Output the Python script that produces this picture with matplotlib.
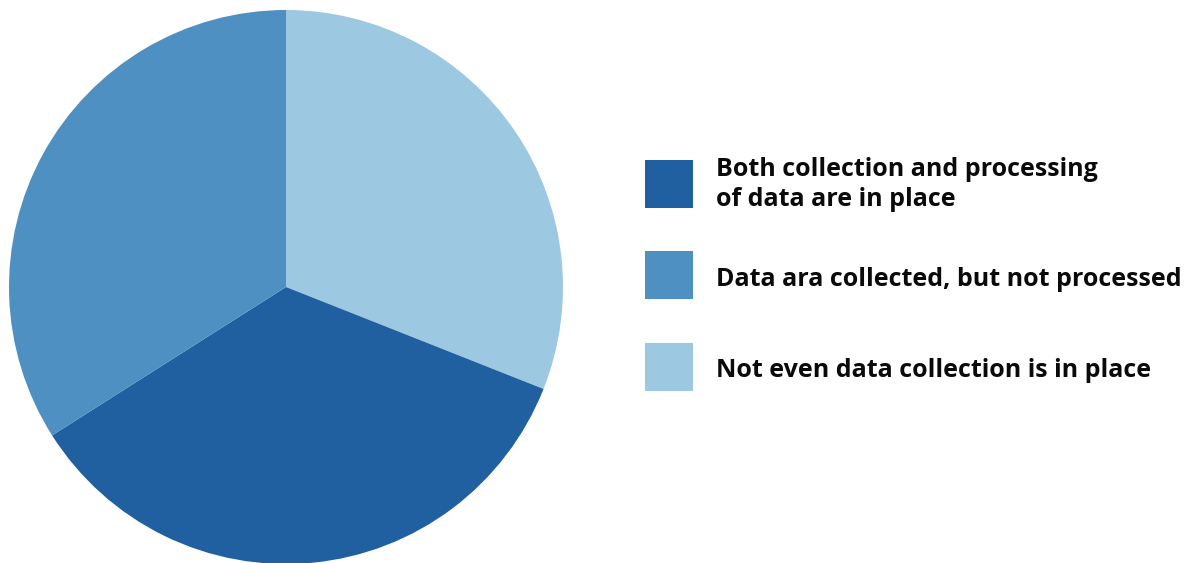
import matplotlib.pyplot as plt
from matplotlib.patches import Rectangle

plt.rcParams['font.family'] = ['Open Sans', 'DejaVu Sans']

# survey shares, in drawing order (clockwise from 12 o'clock)
labels = ['Not even data collection is in place',
          'Both collection and processing\nof data are in place',
          'Data ara collected, but not processed']
shares = [31, 35, 34]
colors = ['#9dc8e2', '#2060a0', '#4f90c3']

# legend order as listed on the right
legend_order = [1, 2, 0]

W, H = 1190, 563
fig = plt.figure(figsize=(W / 100, H / 100), dpi=100)

cx, cy, r = 286, 287, 277
ax = fig.add_axes([(cx - r) / W, (H - cy - r) / H, 2 * r / W, 2 * r / H])
ax.pie(shares, colors=colors, startangle=90, counterclock=False,
       radius=1, wedgeprops=dict(linewidth=0))
ax.set_xlim(-1, 1)
ax.set_ylim(-1, 1)
ax.set_aspect('equal')
ax.axis('off')

# hand-placed legend boxes, text set on the last line's baseline
box_x, box_size, text_x = 645, 48, 716
box_tops = [160, 251, 343]
baselines = [206, 286, 377]
for top, base, i in zip(box_tops, baselines, legend_order):
    fig.add_artist(Rectangle((box_x / W, (H - top - box_size) / H),
                             box_size / W, box_size / H,
                             transform=fig.transFigure,
                             facecolor=colors[i], edgecolor='none'))
    fig.text(text_x / W, (H - base) / H, labels[i],
             fontsize=18, fontweight='bold', color='#0a0a0a',
             va='baseline', ha='left', linespacing=1.25)

fig.savefig('out.png', dpi=100)
